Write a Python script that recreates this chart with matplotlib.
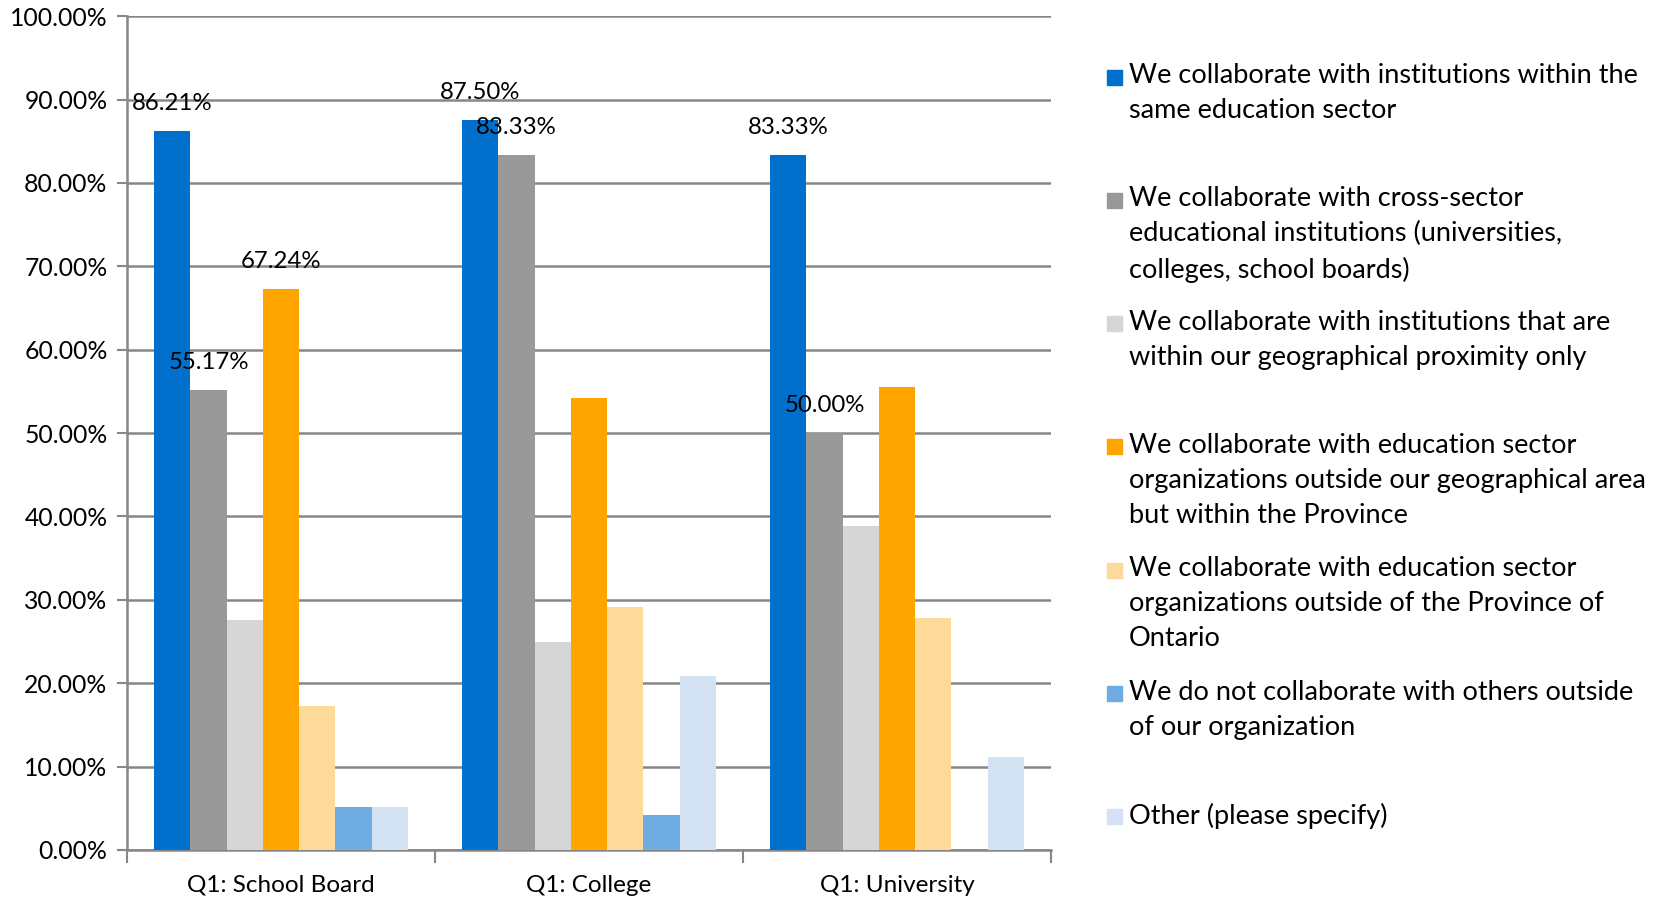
import matplotlib.pyplot as plt
from matplotlib.patches import Rectangle
from matplotlib.ticker import PercentFormatter
import numpy as np

plt.rcParams['font.family'] = ['Lato', 'DejaVu Sans']

categories = ["Q1: School Board", "Q1: College", "Q1: University"]

series_names = [
    "We collaborate with institutions within the\nsame education sector",
    "We collaborate with cross-sector\neducational institutions (universities,\ncolleges, school boards)",
    "We collaborate with institutions that are\nwithin our geographical proximity only",
    "We collaborate with education sector\norganizations outside our geographical area\nbut within the Province",
    "We collaborate with education sector\norganizations outside of the Province of\nOntario",
    "We do not collaborate with others outside\nof our organization",
    "Other (please specify)",
]

same_sector = [86.21, 87.50, 83.33]
cross_sector = [55.17, 83.33, 50.00]
proximity_only = [27.59, 25.00, 38.89]
within_province = [67.24, 54.17, 55.56]
outside_province = [17.24, 29.17, 27.78]
no_collab = [5.17, 4.17, 0.00]
other = [5.17, 20.83, 11.11]

values = [same_sector, cross_sector, proximity_only, within_province,
          outside_province, no_collab, other]

colors = ["#0070CC", "#999999", "#D6D6D6", "#FFA500", "#FDDA9A", "#6FACE2", "#D3E3F4"]

# which bars carry a value label: (series index, category index)
labelled = [(0, 0), (1, 0), (3, 0), (0, 1), (1, 1), (0, 2), (1, 2)]

fig = plt.figure(figsize=(16.65, 8.98), dpi=100)
ax = fig.add_axes([0.0763, 0.0535, 0.5549, 0.9285])

n = len(values)
bw = 1.0 / (n + 1.5)
x = np.arange(len(categories))
grid_c = "#878787"

for i, (vals, c) in enumerate(zip(values, colors)):
    pos = x - 0.5 + 0.75 * bw + (i + 0.5) * bw
    ax.bar(pos, vals, width=bw, color=c, zorder=3, linewidth=0)
    for j in range(len(categories)):
        if (i, j) in labelled:
            ax.text(pos[j], vals[j] + 3.3, f"{vals[j]:.2f}%", ha="center", va="center",
                    fontsize=17.3, color="black", zorder=4)

ax.set_xlim(-0.5, len(categories) - 0.5)
ax.set_ylim(0, 100)
ax.set_yticks(np.arange(0, 101, 10))
ax.yaxis.set_major_formatter(PercentFormatter(decimals=2))
ax.grid(axis="y", color=grid_c, linewidth=1.8, zorder=0)

ax.set_xticks(x)
ax.set_xticklabels(categories)
ax.set_xticks(np.arange(-0.5, len(categories)), minor=True)
ax.tick_params(axis="x", which="major", length=0, pad=18, labelsize=17.5)
ax.tick_params(axis="x", which="minor", length=9, width=1.5, color=grid_c, direction="out")
ax.tick_params(axis="y", length=7, width=1.5, color=grid_c, labelsize=17.8, pad=7)

for s in ["top", "right"]:
    ax.spines[s].set_visible(False)
for s in ["left", "bottom"]:
    ax.spines[s].set_color(grid_c)
    ax.spines[s].set_linewidth(1.8)

# legend, one slot per series at even spacing
leg_x = 1107 / 1665
txt_x = 1129 / 1665
sq_w = 15 / 1665
sq_h = 15 / 898
for k, (name, c) in enumerate(zip(series_names, colors)):
    y_top = 1 - (63 + k * 123.3) / 898
    fig.text(txt_x, y_top, name, ha="left", va="top", fontsize=19.5,
             linespacing=1.5, color="black")
    fig.patches.append(Rectangle((leg_x, y_top - 0.024), sq_w, sq_h,
                                 transform=fig.transFigure, color=c))

fig.savefig("out.png", dpi=100)
